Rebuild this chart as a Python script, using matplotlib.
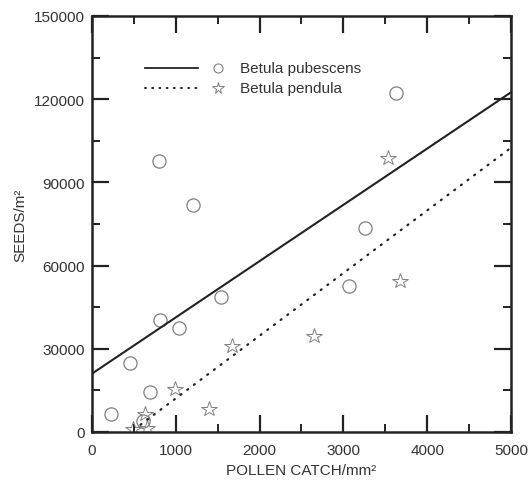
import matplotlib
matplotlib.use("Agg")
import matplotlib.pyplot as plt
import numpy as np
from matplotlib.ticker import MultipleLocator

plt.rcParams['font.family'] = ['Liberation Sans', 'DejaVu Sans']

# Betula pubescens (circles)
pub_x = [230, 460, 696, 612, 811, 1042, 1539, 795, 1209, 3624, 3262, 3067]
pub_y = [6500, 24900, 14300, 3900, 40500, 37600, 48600, 97600, 82000, 122100, 73400, 52500]
# Betula pendula (stars)
pen_x = [3536, 3680, 2649, 1675, 994, 1400, 634, 487, 658]
pen_y = [98700, 54600, 34700, 31100, 15500, 8300, 6600, 1200, 1300]

# regression lines (x range, intercept, slope)
pub_fit_x = [0, 5000]
pub_fit = (21000, 20.3)
pen_fit_x = [580, 5000]
pen_fit = (-10500, 22.6)

labels = ["Betula pubescens", "Betula pendula"]

fig = plt.figure(figsize=(5.28, 4.81), dpi=100)
ax = fig.add_axes([0.174, 0.0998, 0.794, 0.865])

gray = "#808080"
ax.plot(pub_x, pub_y, linestyle='none', marker='o', markersize=9.5,
        markerfacecolor='none', markeredgecolor=gray, markeredgewidth=0.9)
ax.plot(pen_x, pen_y, linestyle='none', marker='*', markersize=11.5,
        markerfacecolor='none', markeredgecolor=gray, markeredgewidth=0.7)

fx = np.array(pub_fit_x)
ax.plot(fx, pub_fit[0] + pub_fit[1] * fx, color='#222222', lw=1.5)
fx2 = np.array(pen_fit_x)
ax.plot(fx2, pen_fit[0] + pen_fit[1] * fx2, color='#222222', lw=1.6,
        linestyle=(0, (0.5, 3.25)), dash_capstyle='round')

ax.set_xlim(0, 5000)
ax.set_ylim(0, 150000)
ax.xaxis.set_major_locator(MultipleLocator(1000))
ax.xaxis.set_minor_locator(MultipleLocator(500))
ax.yaxis.set_major_locator(MultipleLocator(30000))
ax.yaxis.set_minor_locator(MultipleLocator(15000))
ax.tick_params(which='both', direction='in', top=True, right=True,
               labelsize=11, colors='#222222', labelcolor='#333333')
ax.tick_params(which='major', length=12, width=1.6)
ax.tick_params(axis='x', which='major', pad=8)
ax.tick_params(axis='y', which='major', pad=5)
ax.tick_params(which='minor', length=6, width=1.4)
for s in ax.spines.values():
    s.set_linewidth(1.8)
    s.set_color('#222222')

ax.set_xlabel("POLLEN CATCH/mm²", fontsize=11, color='#333333', labelpad=4)
ax.set_ylabel("SEEDS/m²", fontsize=11, color='#333333', labelpad=5)

# legend drawn manually
tr = ax.transAxes
ax.plot([0.1265, 0.253], [0.875, 0.875], color='#222222', lw=1.3, transform=tr)
ax.plot([0.1265, 0.253], [0.827, 0.827], color='#222222', lw=1.4, transform=tr,
        linestyle=(0, (0.5, 3.2)), dash_capstyle='round')
ax.plot([0.30], [0.875], marker='o', markersize=6.5, markerfacecolor='none',
        markeredgecolor=gray, markeredgewidth=0.8, transform=tr)
ax.plot([0.30], [0.827], marker='*', markersize=8.5, markerfacecolor='none',
        markeredgecolor=gray, markeredgewidth=0.7, transform=tr)
ax.text(0.353, 0.875, labels[0], transform=tr, va='center', ha='left',
        fontsize=11, color='#333333')
ax.text(0.353, 0.827, labels[1], transform=tr, va='center', ha='left',
        fontsize=11, color='#333333')

fig.savefig("out.png", dpi=100)
